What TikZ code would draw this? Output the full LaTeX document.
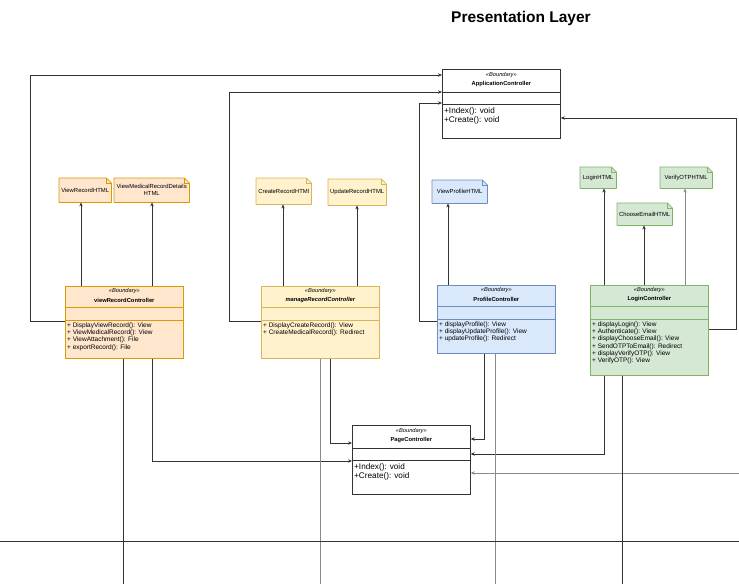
\documentclass[tikz,border=0pt]{standalone}
\usepackage{fontspec}
\setmainfont{Liberation Sans}
\usetikzlibrary{arrows.meta,backgrounds}
\definecolor{orF}{HTML}{FFE6CC}\definecolor{orD}{HTML}{D79B00}
\definecolor{yeF}{HTML}{FFF2CC}\definecolor{yeD}{HTML}{D6B656}
\definecolor{blF}{HTML}{DAE8FC}\definecolor{blD}{HTML}{6C8EBF}
\definecolor{grF}{HTML}{D5E8D4}\definecolor{grD}{HTML}{82B366}
\definecolor{lineC}{HTML}{333333}
\definecolor{lineG}{HTML}{8A8A8A}
\tikzset{
 arr/.style={draw=lineC, line width=0.7pt, -{Stealth[length=4pt,width=3.4pt]}},
 arrg/.style={draw=lineG, line width=0.9pt, -{Stealth[length=4pt,width=3.4pt]}},
 ln/.style={draw=lineC, line width=0.7pt},
 lng/.style={draw=lineG, line width=0.9pt},
 clsbox/.style={rectangle, line width=0.7pt, minimum width=118pt, inner sep=0pt},
 stereo/.style={font=\fontsize{5.7}{6.5}\selectfont\itshape, inner sep=0pt},
 cname/.style={font=\fontsize{5.8}{7}\selectfont\bfseries, inner sep=0pt},
 meth/.style={font=\fontsize{6.5}{7.2}\selectfont, align=left, anchor=north west, inner sep=0pt},
 bmeth/.style={font=\fontsize{8.2}{9.6}\selectfont, align=left, anchor=north west, inner sep=0pt},
 notetext/.style={font=\fontsize{5.9}{7}\selectfont, align=center, inner sep=0pt},
}
% note with folded corner: name, left, top, width, height, fill, stroke, text
\newcommand\mknote[8]{%
 \node[notetext, minimum width=#4pt, minimum height=#5pt, anchor=north west] (#1) at (#2,#3) {#8};
 \begin{scope}[on background layer]
 \filldraw[fill=#6, draw=#7, line width=0.7pt, line join=round] (#1.south west) -- (#1.north west) -- ([xshift=-5pt]#1.north east) -- ([yshift=-5pt]#1.north east) -- (#1.south east) -- cycle;
 \end{scope}
 \draw[#7, line width=0.5pt] ([xshift=-5pt]#1.north east) -- ([xshift=-5pt,yshift=-5pt]#1.north east) -- ([yshift=-5pt]#1.north east);
}
% controller: name, left, top, height, colour prefix, title, methods
\newcommand\ctrl[7]{%
 \node[clsbox, fill=#5F, draw=#5D, minimum height=#4pt, anchor=north west] (#1) at (#2,#3) {};
 \draw[#5D, line width=0.7pt] ([yshift=-21pt]#1.north west) -- ([yshift=-21pt]#1.north east);
 \draw[#5D, line width=0.7pt] ([yshift=-34pt]#1.north west) -- ([yshift=-34pt]#1.north east);
 \node[stereo] (#1s) at ([yshift=-5.5pt]#1.north) {\textless\textless Boundary\textgreater\textgreater};
 \node[cname] (#1n) at ([yshift=-14pt]#1.north) {#6};
 \node[meth] (#1m) at ([xshift=2pt,yshift=-36.5pt]#1.north west) {#7};
}
% big boundary class: name, left, top, title
\newcommand\bnd[4]{%
 \node[clsbox, fill=white, draw=lineC, minimum height=69pt, anchor=north west] (#1) at (#2,#3) {};
 \draw[lineC, line width=0.7pt] ([yshift=-23pt]#1.north west) -- ([yshift=-23pt]#1.north east);
 \draw[lineC, line width=0.7pt] ([yshift=-35pt]#1.north west) -- ([yshift=-35pt]#1.north east);
 \node[stereo] (#1s) at ([yshift=-6pt]#1.north) {\textless\textless Boundary\textgreater\textgreater};
 \node[cname] (#1n) at ([yshift=-15pt]#1.north) {#4};
 \node[bmeth] (#1m) at ([xshift=2pt,yshift=-38pt]#1.north west) {+Index(): void\\+Create(): void};
}
\begin{document}
\begin{tikzpicture}[x=1pt,y=-1pt]
\useasboundingbox (0,0) rectangle (739,584);
\node[font=\fontsize{15.5}{18}\selectfont\bfseries] (title) at (521,18) {Presentation Layer};

% boundary classes
\bnd{app}{442}{69}{ApplicationController}
\bnd{pc}{352}{425}{PageController}

% controllers
\ctrl{vrc}{65}{286}{72}{or}{viewRecordController}{+ DisplayViewRecord(): View\\+ ViewMedicalRecord(): View\\+ ViewAttachment(): File\\+ exportRecord(): File}
\ctrl{mrc}{261}{286}{72}{ye}{\itshape manageRecordController}{+ DisplayCreateRecord(): View\\+ CreateMedicalRecord(): Redirect}
\ctrl{pfc}{437}{285}{68}{bl}{ProfileController}{+ displayProfile(): View\\+ displayUpdateProfile(): View\\+ updateProfile(): Redirect}
\ctrl{lgc}{590}{285}{90}{gr}{LoginController}{+ displayLogin(): View\\+ Authenticate(): View\\+ displayChooseEmail(): View\\+ SendOTPToEmail(): Redirect\\+ displayVerifyOTP(): View\\+ VerifyOTP(): View}

% notes
\mknote{vrh}{59}{178}{52}{24}{orF}{orD}{ViewRecordHTML}
\mknote{vmh}{114}{178}{75}{24}{orF}{orD}{ViewMedicalRecordDetails\\HTML}
\mknote{crh}{256}{178}{55}{26}{yeF}{yeD}{CreateRecordHTMl}
\mknote{urh}{328}{179}{58}{26}{yeF}{yeD}{UpdateRecordHTML}
\mknote{vph}{432}{180}{55}{23}{blF}{blD}{ViewProfileHTML}
\mknote{lgh}{580}{167}{36}{21}{grF}{grD}{LoginHTML}
\mknote{voh}{660}{167}{52}{21}{grF}{grD}{VerifyOTPHTML}
\mknote{ceh}{617}{203}{55}{22}{grF}{grD}{ChooseEmailHTML}

% controllers -> notes
\coordinate (vrcT1) at ([xshift=16pt]vrc.north west);
\coordinate (vrcT2) at ([xshift=87pt]vrc.north west);
\coordinate (mrcT1) at ([xshift=22pt]mrc.north west);
\coordinate (mrcT2) at ([xshift=96pt]mrc.north west);
\coordinate (pfcT1) at ([xshift=11pt]pfc.north west);
\coordinate (lgcT1) at ([xshift=14pt]lgc.north west);
\coordinate (lgcT2) at ([xshift=54pt]lgc.north west);
\coordinate (lgcT3) at ([xshift=95pt]lgc.north west);
\draw[arr] (vrcT1) -- (vrcT1 |- vrh.south);
\draw[arr] (vrcT2) -- (vrcT2 |- vmh.south);
\draw[arr] (mrcT1) -- (mrcT1 |- crh.south);
\draw[arr] (mrcT2) -- (mrcT2 |- urh.south);
\draw[arr] (pfcT1) -- (pfcT1 |- vph.south);
\draw[arr] (lgcT1) -- (lgcT1 |- lgh.south);
\draw[arr] (lgcT2) -- (lgcT2 |- ceh.south);
\draw[arrg] (lgcT3) -- (lgcT3 |- voh.south);

% controllers -> ApplicationController
\coordinate (vrcL) at ([yshift=-35pt]vrc.north west);
\coordinate (mrcL) at ([yshift=-35pt]mrc.north west);
\coordinate (pfcL) at ([yshift=-36pt]pfc.north west);
\coordinate (lgcR) at ([yshift=-44pt]lgc.north east);
\draw[arr] (vrcL) -- ++(-35,0) |- ([yshift=-6pt]app.north west);
\draw[arr] (mrcL) -- ++(-32,0) |- ([yshift=-23pt]app.north west);
\draw[arr] (pfcL) -- ++(-18,0) |- ([yshift=-34pt]app.north west);
\draw[arr] (lgcR) -- ++(28,0) |- ([yshift=-49pt]app.north east);

% controllers -> PageController
\coordinate (vrcB1) at ([xshift=87pt]vrc.south west);
\coordinate (mrcB1) at ([xshift=69pt]mrc.south west);
\coordinate (pfcB1) at ([xshift=47pt]pfc.south west);
\coordinate (lgcB1) at ([xshift=14pt]lgc.south west);
\coordinate (rEdge) at (739,473);
\draw[arr] (vrcB1) |- ([yshift=-36pt]pc.north west);
\draw[arr] (mrcB1) |- ([yshift=-18pt]pc.north west);
\draw[arr] (pfcB1) |- ([yshift=-14pt]pc.north east);
\draw[arr] (lgcB1) |- ([yshift=-29pt]pc.north east);
\draw[arrg] (rEdge) -- (rEdge -| pc.east);

% lifelines and lower boundary line
\coordinate (bot) at (0,584);
\coordinate (vrcB0) at ([xshift=58pt]vrc.south west);
\coordinate (mrcB0) at ([xshift=59pt]mrc.south west);
\coordinate (pfcB0) at ([xshift=58pt]pfc.south west);
\coordinate (lgcB0) at ([xshift=32pt]lgc.south west);
\draw[ln] (vrcB0) -- (vrcB0 |- bot);
\draw[lng] (mrcB0) -- (mrcB0 |- bot);
\draw[lng] (pfcB0) -- (pfcB0 |- bot);
\draw[ln] (lgcB0) -- (lgcB0 |- bot);
\coordinate (hl) at (0,541);
\coordinate (hr) at (739,541);
\draw[ln] (hl) -- (hr);
\end{tikzpicture}
\end{document}
